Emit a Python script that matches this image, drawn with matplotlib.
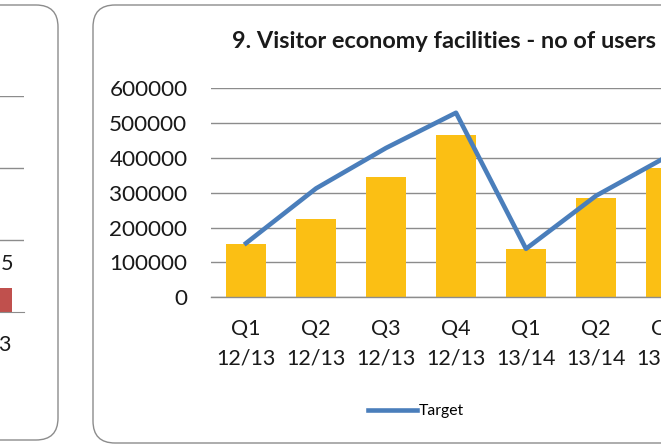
import numpy as np
import matplotlib.pyplot as plt
from matplotlib.patches import FancyBboxPatch

plt.rcParams['font.family'] = ['Lato', 'DejaVu Sans']

# data
quarters = ['Q1\n12/13', 'Q2\n12/13', 'Q3\n12/13', 'Q4\n12/13',
            'Q1\n13/14', 'Q2\n13/14', 'Q3\n13/14']
users = [153000, 224000, 345000, 466000, 138000, 284000, 372000]
target = [155000, 312000, 428000, 529000, 139000, 291000, 402000]
y_ticks = [0, 100000, 200000, 300000, 400000, 500000, 600000]
title = '9. Visitor economy facilities - no of users'

# the neighbouring chart, only its right edge is in view
left_ticks = [0, 10, 20, 30]
left_values = [3.3]

W, H = 661, 444
fig = plt.figure(figsize=(W / 100, H / 100), dpi=100)


def px_axes(x0, y0, x1, y1):
    # pixel box (top-left origin) -> axes
    return fig.add_axes([x0 / W, 1 - y1 / H, (x1 - x0) / W, (y1 - y0) / H])


# background with the two rounded chart frames
bg = fig.add_axes([0, 0, 1, 1], zorder=0)
bg.set_xlim(0, W)
bg.set_ylim(H, 0)
bg.axis('off')
for x0, x1, y0, y1 in [(-300, 58, 5, 440), (93, 1000, 5, 443)]:
    bg.add_patch(FancyBboxPatch((x0, y0), x1 - x0, y1 - y0,
                                boxstyle='round,pad=0,rounding_size=22',
                                fc='white', ec='#8c8c8c', lw=1.0))

# left neighbour chart
lax = px_axes(-100, 96, 24, 312)
lax.set_zorder(1)
lax.patch.set_visible(False)
lax.bar([0], left_values, width=0.8, color='#c0504d', zorder=2)
lax.set_xlim(-0.5, 0.5)
lax.set_ylim(left_ticks[0], left_ticks[-1])
lax.set_yticks(left_ticks[1:])
lax.grid(axis='y', color='#8c8c8c', lw=1.0)
for s in ['top', 'left', 'right']:
    lax.spines[s].set_visible(False)
lax.spines['bottom'].set_color('#8c8c8c')
lax.tick_params(left=False, bottom=False, labelleft=False, labelbottom=False)
bg.text(7, 264, '5', fontsize=15.5, ha='center', va='center', color='#1a1a1a')
bg.text(4, 345, '3', fontsize=15.5, ha='center', va='center', color='#1a1a1a')

# main chart
ax = px_axes(211, 88, 211 + 70 * len(quarters), 297.3)
ax.set_zorder(2)
ax.patch.set_visible(False)
x = np.arange(len(quarters))
ax.bar(x, users, width=0.585, color='#fbbf14', zorder=2)
ax.plot(x, target, color='#4a7ebb', lw=3.3, zorder=3, label='Target')
ax.set_xlim(-0.5, len(quarters) - 0.5)
ax.set_ylim(0, 600000)
ax.set_yticks(y_ticks)
ax.set_yticklabels([str(v) for v in y_ticks])
ax.set_xticks(x)
ax.set_xticklabels(quarters, linespacing=1.62)
ax.grid(axis='y', color='#8c8c8c', lw=1.0, zorder=0)
ax.set_axisbelow(True)
for s in ['top', 'left', 'right']:
    ax.spines[s].set_visible(False)
ax.spines['bottom'].set_color('#8c8c8c')
ax.spines['bottom'].set_linewidth(1.0)
ax.tick_params(axis='y', length=0, pad=17, labelsize=16.2, labelcolor='#1a1a1a')
ax.tick_params(axis='x', length=0, pad=15.5, labelsize=15.5, labelcolor='#1a1a1a')

bg.text(444, 41, title, fontsize=16.9, fontweight='bold', ha='center', va='center',
        color='#1a1a1a')

fig.legend(handles=ax.lines, loc='center', bbox_to_anchor=(416 / W, 1 - 411 / H),
           frameon=False, fontsize=11.3, handlelength=3.1, handletextpad=0.15)

fig.savefig('out.png', dpi=100)
